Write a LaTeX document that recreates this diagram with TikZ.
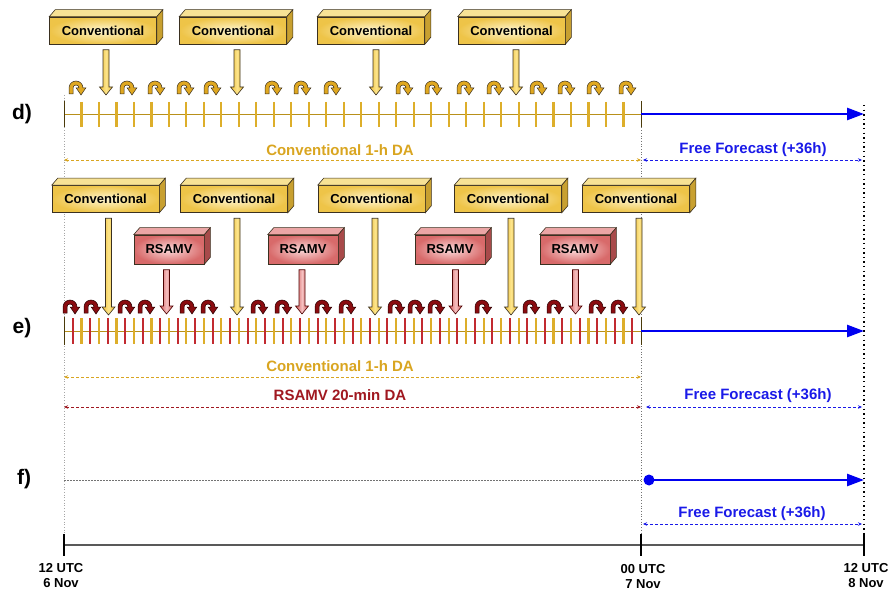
\documentclass[tikz,border=0pt]{standalone}
\usepackage{fontspec}
\setmainfont{Liberation Sans}
\usetikzlibrary{arrows.meta,calc}
\definecolor{gold}{HTML}{D9A520}
\definecolor{goldline}{HTML}{B8901A}
\definecolor{tickgold}{HTML}{DDAE2A}
\definecolor{tickred}{HTML}{C22A30}
\definecolor{fcblue}{HTML}{1A1AE8}
\definecolor{arblue}{HTML}{0000F0}
\definecolor{dared}{HTML}{A01820}
\definecolor{convhi}{HTML}{FFF6D0}
\definecolor{convlo}{HTML}{EEC448}
\definecolor{convtop}{HTML}{F7E295}
\definecolor{convside}{HTML}{C8A030}
\definecolor{arrlo}{HTML}{EDBC35}
\definecolor{arrhi}{HTML}{FCE48A}
\definecolor{rshi}{HTML}{FBDADA}
\definecolor{rslo}{HTML}{D86A6A}
\definecolor{rsarrlo}{HTML}{D25A5A}
\definecolor{rsarrhi}{HTML}{F5C0C0}
\definecolor{rstop}{HTML}{EBA5A5}
\definecolor{rsside}{HTML}{A84A4A}
\definecolor{boxline}{HTML}{3A3020}
\definecolor{curvgold}{HTML}{E0A820}
\definecolor{curvred}{HTML}{8A0C10}
\newcommand\boxfont{\bfseries\fontsize{13}{15}\selectfont}
\newcommand\labfont{\bfseries\fontsize{15}{17}\selectfont}
\newcommand\rowfont{\bfseries\fontsize{21}{24}\selectfont}
\newcommand\timefont{\bfseries\fontsize{13}{15}\selectfont}
% 3D faces of a box node: name, top colour, side colour
\newcommand\faces[3]{%
  \filldraw[fill=#2, draw=boxline, line width=0.6pt] (#1.north west) -- ++(6,-7) -- ([shift={(6,-7)}]#1.north east) -- (#1.north east) -- cycle;
  \filldraw[fill=#3, draw=boxline, line width=0.6pt] (#1.north east) -- ++(6,-7) -- ([shift={(6,-7)}]#1.south east) -- (#1.south east) -- cycle;}
% block arrow from below a box node to a tip coordinate
\newcommand\blockarr[3]{%
  \path[#3] let \p1=(#1.south), \p2=(#2) in
    (\x2-3pt,\y1-5.5pt) -- (\x2+3pt,\y1-5.5pt) -- (\x2+3pt,\y2+8pt) -- (\x2+6.5pt,\y2+8pt)
    -- (\x2,\y2) -- (\x2-6.5pt,\y2+8pt) -- (\x2-3pt,\y2+8pt) -- cycle;}
% curved (cycling) arrow: centre x, bottom y, style
\newcommand\curv[3]{%
  \draw[#3] (#1-7,#2) -- (#1-7,#2-6) arc[start angle=180,end angle=360,radius=7]
    -- (#1+9.8,#2-6) -- (#1+5,#2+1) -- (#1+0.2,#2-6) -- (#1+3,#2-6)
    arc[start angle=0,end angle=-180,radius=3] -- (#1-3,#2) -- cycle;}
\begin{document}
\begin{tikzpicture}[x=1pt,y=-1pt,
  convbox/.style={draw=boxline, line width=0.6pt, inner color=convhi, outer color=convlo,
    minimum width=107pt, minimum height=27pt, inner sep=0pt, font=\boxfont},
  rsbox/.style={draw=boxline, line width=0.6pt, inner color=rshi, outer color=rslo,
    minimum width=70pt, minimum height=29pt, inner sep=0pt, font=\boxfont},
  yarrow/.style={draw=boxline, line width=0.6pt, left color=arrlo, right color=arrlo, middle color=arrhi},
  rarrow/.style={draw=black!70!red, line width=0.6pt, left color=rsarrlo, right color=rsarrlo, middle color=rsarrhi},
  curvd/.style={fill=curvgold, draw=boxline, line width=0.5pt},
  curve/.style={fill=curvred, draw=black!85!red, line width=0.5pt},
  tline/.style={goldline, line width=0.9pt},
  ytick/.style={tickgold, line width=2.2pt},
  rtick/.style={tickred, line width=2pt},
  endtick/.style={black!60!goldline, line width=0.7pt},
  fcarrow/.style={arblue, line width=2.6pt, -{Triangle[length=17pt,width=12pt]}},
  dim/.style={dash pattern=on 2.8pt off 2.2pt, line width=0.7pt,
    {Stealth[length=4pt,width=3.5pt]}-{Stealth[length=4pt,width=3.5pt]}},
  lab/.style={font=\labfont, inner sep=0pt},
  rowlab/.style={font=\rowfont, inner sep=0pt},
  tlab/.style={font=\timefont, align=center, inner sep=0pt},
  guide/.style={black!35, line width=0.7pt, dotted},
  guidem/.style={black!55, line width=0.7pt, dotted},
  guider/.style={black, line width=1.4pt, dash pattern=on 1.4pt off 3.2pt},
]
\useasboundingbox (0,0) rectangle (890,593);

% ---------- axis coordinates ----------
\coordinate (A0) at (64,545);
\coordinate (A1) at (641,545);
\coordinate (A2) at (864,545);
\coordinate (G0) at (64,95);
\coordinate (G1) at (641,114);
\coordinate (G2) at (864,105);

% vertical guides
\draw[guide]  (G0) -- (A0);
\draw[guidem] (G1) -- (A1);
\draw[guider] (G2) -- (A2);

% ---------- row labels ----------
\node[rowlab] (ld) at (22,114) {d)};
\node[rowlab] (le) at (22,328) {e)};
\node[rowlab] (lf) at (24,479) {f)};

% ================= row d =================
\coordinate (d0) at (64,114);
\coordinate (d1) at (641,114);
\coordinate (d2) at (864,114);
\draw[tline] (d0) -- (d1);
\foreach \k in {1,...,32} \draw[ytick] ({64+\k*17.485},102) -- ++(0,25);
\draw[endtick] (64,101) -- (64,127);
\draw[endtick] (641,101) -- (641,127);
\draw[fcarrow] (d1) -- (d2);

\node[convbox] (Cd1) at (103,30.5) {Conventional};
\node[convbox] (Cd2) at (233,30.5) {Conventional};
\node[convbox] (Cd3) at (371,30.5) {Conventional};
\node[convbox] (Cd4) at (511.5,30.5) {Conventional};
\foreach \n in {Cd1,Cd2,Cd3,Cd4} {\faces{\n}{convtop}{convside}}

\coordinate (td1) at (106,95);
\coordinate (td2) at (237,95);
\coordinate (td3) at (376,95);
\coordinate (td4) at (516,95);
\blockarr{Cd1}{td1}{yarrow}
\blockarr{Cd2}{td2}{yarrow}
\blockarr{Cd3}{td3}{yarrow}
\blockarr{Cd4}{td4}{yarrow}

\foreach \cx in {76,127,155,184,211,272,301,331,403,432,464,494,537,565,594,626} {\curv{\cx}{94}{curvd}}

\node[lab, text=gold] (cdl) at (340,150) {Conventional 1-h DA};
\node[lab, text=fcblue] (ffd) at (753,150) {Free Forecast (+36h)};
\coordinate (m0) at (64,160);
\coordinate (m1) at (641,160);
\coordinate (m1b) at (643,160);
\coordinate (m2) at (862,160);
\draw[dim, gold] (m0) -- (m1);
\draw[dim, fcblue] (m1b) -- (m2);

% ================= row e =================
\coordinate (e0) at (64,331);
\coordinate (e1) at (641,331);
\coordinate (e2) at (864,331);
\draw[tline] (e0) -- (e1);
\foreach \k in {1,...,32} \draw[ytick] ({64+\k*17.485},318) -- ++(0,26);
\foreach \k in {0,...,32} \draw[rtick] ({64+(\k+0.5)*17.485},318) -- ++(0,26);
\draw[endtick] (64,317) -- (64,345);
\draw[endtick] (641,317) -- (641,345);
\draw[fcarrow] (e1) -- (e2);

\node[convbox] (Ce1) at (105.5,199) {Conventional};
\node[convbox] (Ce2) at (234,199) {Conventional};
\node[convbox] (Ce3) at (371.5,199) {Conventional};
\node[convbox] (Ce4) at (508,199) {Conventional};
\node[convbox] (Ce5) at (636,199) {Conventional};
\foreach \n in {Ce1,Ce2,Ce3,Ce4,Ce5} {\faces{\n}{convtop}{convside}}

\node[rsbox] (Re1) at (169,249.5) {RSAMV};
\node[rsbox] (Re2) at (303,249.5) {RSAMV};
\node[rsbox] (Re3) at (450,249.5) {RSAMV};
\node[rsbox] (Re4) at (575,249.5) {RSAMV};
\foreach \n in {Re1,Re2,Re3,Re4} {\faces{\n}{rstop}{rsside}}

\coordinate (te1) at (108.5,315);
\coordinate (te2) at (237,315);
\coordinate (te3) at (375,315);
\coordinate (te4) at (511,315);
\coordinate (te5) at (639,315);
\blockarr{Ce1}{te1}{yarrow}
\blockarr{Ce2}{te2}{yarrow}
\blockarr{Ce3}{te3}{yarrow}
\blockarr{Ce4}{te4}{yarrow}
\blockarr{Ce5}{te5}{yarrow}

\coordinate (tr1) at (166.5,314);
\coordinate (tr2) at (302,314);
\coordinate (tr3) at (455.5,314);
\coordinate (tr4) at (575.5,314);
\blockarr{Re1}{tr1}{rarrow}
\blockarr{Re2}{tr2}{rarrow}
\blockarr{Re3}{tr3}{rarrow}
\blockarr{Re4}{tr4}{rarrow}

\foreach \cx in {70,91,125,145,187,208,258,282,322,346,395,415,435,482,530,554,596,618} {\curv{\cx}{313}{curve}}

\node[lab, text=gold] (cel) at (340,366) {Conventional 1-h DA};
\coordinate (n0) at (64,377);
\coordinate (n1) at (641,377);
\draw[dim, gold] (n0) -- (n1);
\node[lab, text=dared] (rel) at (340,395) {RSAMV 20-min DA};
\node[lab, text=fcblue] (ffe) at (758,396) {Free Forecast (+36h)};
\coordinate (r0) at (64,407);
\coordinate (r1) at (641,407);
\coordinate (r1b) at (646,407);
\coordinate (r2) at (862,407);
\draw[dim, dared] (r0) -- (r1);
\draw[dim, fcblue] (r1b) -- (r2);

% ================= row f =================
\coordinate (f0) at (64,480);
\coordinate (f1) at (641,480);
\coordinate (fs) at (649,480);
\coordinate (f2) at (864,480);
\draw[black!55, line width=0.6pt, dash pattern=on 1.5pt off 1.5pt] (f0) -- (f1);
\draw[fcarrow] (fs) -- (f2);
\fill[arblue] (fs) circle[radius=5.5];
\node[lab, text=fcblue] (fff) at (752,514) {Free Forecast (+36h)};
\coordinate (p1) at (643,524);
\coordinate (p2) at (862,524);
\draw[dim, fcblue] (p1) -- (p2);

% ================= time axis =================
\draw[black!65, line width=1.3pt] (A0) -- (A2);
\draw[black, line width=1.6pt] (64,534) -- (64,556);
\draw[black, line width=1.6pt] (641,534) -- (641,556);
\draw[black, line width=1.6pt] (864,534) -- (864,556);
\node[tlab] (T0) at (61,576) {12 UTC\\6 Nov};
\node[tlab] (T1) at (643,577) {00 UTC\\7 Nov};
\node[tlab] (T2) at (866,576) {12 UTC\\8 Nov};
\end{tikzpicture}
\end{document}
